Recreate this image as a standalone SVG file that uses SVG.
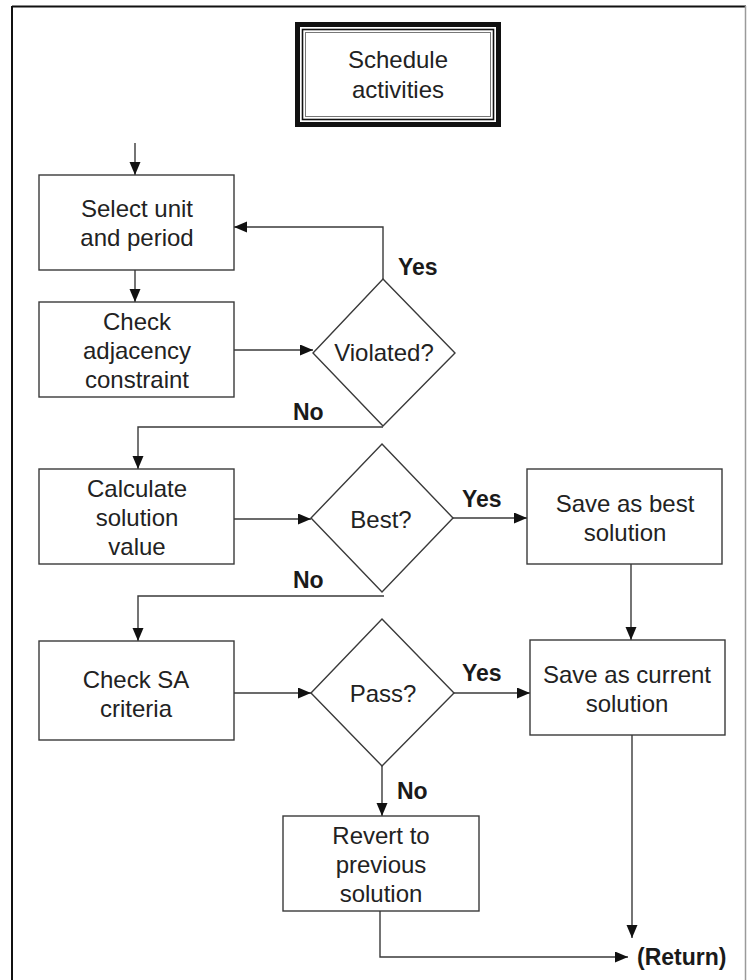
<svg xmlns="http://www.w3.org/2000/svg" width="747" height="980" viewBox="0 0 747 980">
  <style>
    .box { fill: #ffffff; stroke: #3a3a3a; stroke-width: 1.4; }
    .lbl { font-family: "Liberation Sans", Arial, sans-serif; font-size: 24px; fill: #222222; text-anchor: middle; }
    .tag { font-family: "Liberation Sans", Arial, sans-serif; font-size: 23px; font-weight: bold; fill: #1a1a1a; }
    .wire { fill: none; stroke: #3a3a3a; stroke-width: 1.4; }
  </style>
  <defs>
    <marker id="arrow" markerUnits="userSpaceOnUse" markerWidth="14" markerHeight="12" refX="13" refY="5.5" orient="auto">
      <path d="M0,0 L13,5.5 L0,11 z" fill="#111111"/>
    </marker>
  </defs>

  <rect width="747" height="980" fill="#ffffff"/>

  <!-- page frame -->
  <g id="frame">
    <line x1="12" y1="6.5" x2="746" y2="6.5" stroke="#111111" stroke-width="2"/>
    <line x1="12" y1="6" x2="12" y2="980" stroke="#111111" stroke-width="2"/>
    <line x1="745.5" y1="6" x2="745.5" y2="980" stroke="#9a9a9a" stroke-width="1.5"/>
  </g>

  <!-- title: triple-ruled frame -->
  <g id="title">
    <rect x="297.5" y="24.5" width="201" height="100" fill="#ffffff" stroke="#111111" stroke-width="5"/>
    <rect x="302.5" y="29.5" width="191" height="90" fill="none" stroke="#111111" stroke-width="1.6"/>
    <rect x="305.5" y="32.5" width="185" height="84" fill="none" stroke="#777777" stroke-width="1"/>
    <text class="lbl" x="398" y="68">Schedule</text>
    <text class="lbl" x="398" y="98">activities</text>
  </g>

  <!-- connectors -->
  <g id="connectors">
    <path class="wire" d="M135,143 V175" marker-end="url(#arrow)"/>
    <path class="wire" d="M135,270 V302" marker-end="url(#arrow)"/>
    <path class="wire" d="M232,350 H313" marker-end="url(#arrow)"/>
    <path class="wire" d="M383,279 V227 H234" marker-end="url(#arrow)"/>
    <path class="wire" d="M383,427 H138 V469" marker-end="url(#arrow)"/>
    <path class="wire" d="M234,519 H311" marker-end="url(#arrow)"/>
    <path class="wire" d="M453,518 H527" marker-end="url(#arrow)"/>
    <path class="wire" d="M384,596 H138 V641" marker-end="url(#arrow)"/>
    <path class="wire" d="M631,564 V640" marker-end="url(#arrow)"/>
    <path class="wire" d="M234,693 H311" marker-end="url(#arrow)"/>
    <path class="wire" d="M454,693 H530" marker-end="url(#arrow)"/>
    <path class="wire" d="M382,766 V816" marker-end="url(#arrow)"/>
    <path class="wire" d="M380,911 V957 H628" marker-end="url(#arrow)"/>
    <path class="wire" d="M632,735 V938" marker-end="url(#arrow)"/>
  </g>

  <!-- edge labels -->
  <g id="edge-labels">
    <text class="tag" x="398" y="275">Yes</text>
    <text class="tag" x="293" y="420">No</text>
    <text class="tag" x="462" y="507">Yes</text>
    <text class="tag" x="293" y="588">No</text>
    <text class="tag" x="462" y="681">Yes</text>
    <text class="tag" x="397" y="799">No</text>
  </g>

  <g id="select-unit">
    <rect class="box" x="39" y="175" width="195" height="95"/>
    <text class="lbl" x="137" y="217">Select unit</text>
    <text class="lbl" x="137" y="246">and period</text>
  </g>

  <g id="check-adjacency">
    <rect class="box" x="39" y="302" width="195" height="95"/>
    <text class="lbl" x="137" y="330">Check</text>
    <text class="lbl" x="137" y="359">adjacency</text>
    <text class="lbl" x="137" y="388">constraint</text>
  </g>

  <g id="violated">
    <polygon class="box" points="383,279 455,353 383,426 313,353"/>
    <text class="lbl" x="384" y="361">Violated?</text>
  </g>

  <g id="calculate">
    <rect class="box" x="39" y="469" width="195" height="95"/>
    <text class="lbl" x="137" y="497">Calculate</text>
    <text class="lbl" x="137" y="526">solution</text>
    <text class="lbl" x="137" y="555">value</text>
  </g>

  <g id="best">
    <polygon class="box" points="382,444 453,518 382,592 311,518"/>
    <text class="lbl" x="381" y="528">Best?</text>
  </g>

  <g id="save-best">
    <rect class="box" x="527" y="469" width="195" height="95"/>
    <text class="lbl" x="625" y="512">Save as best</text>
    <text class="lbl" x="625" y="541">solution</text>
  </g>

  <g id="check-sa">
    <rect class="box" x="39" y="641" width="195" height="99"/>
    <text class="lbl" x="136" y="688">Check SA</text>
    <text class="lbl" x="136" y="717">criteria</text>
  </g>

  <g id="pass">
    <polygon class="box" points="382,619 454,693 382,766 311,693"/>
    <text class="lbl" x="383" y="702">Pass?</text>
  </g>

  <g id="save-current">
    <rect class="box" x="530" y="640" width="195" height="95"/>
    <text class="lbl" x="627" y="683">Save as current</text>
    <text class="lbl" x="627" y="712">solution</text>
  </g>

  <g id="revert">
    <rect class="box" x="283" y="816" width="196" height="95"/>
    <text class="lbl" x="381" y="844">Revert to</text>
    <text class="lbl" x="381" y="873">previous</text>
    <text class="lbl" x="381" y="902">solution</text>
  </g>

  <g id="return">
    <text class="tag" x="637" y="965">(Return)</text>
  </g>
</svg>
